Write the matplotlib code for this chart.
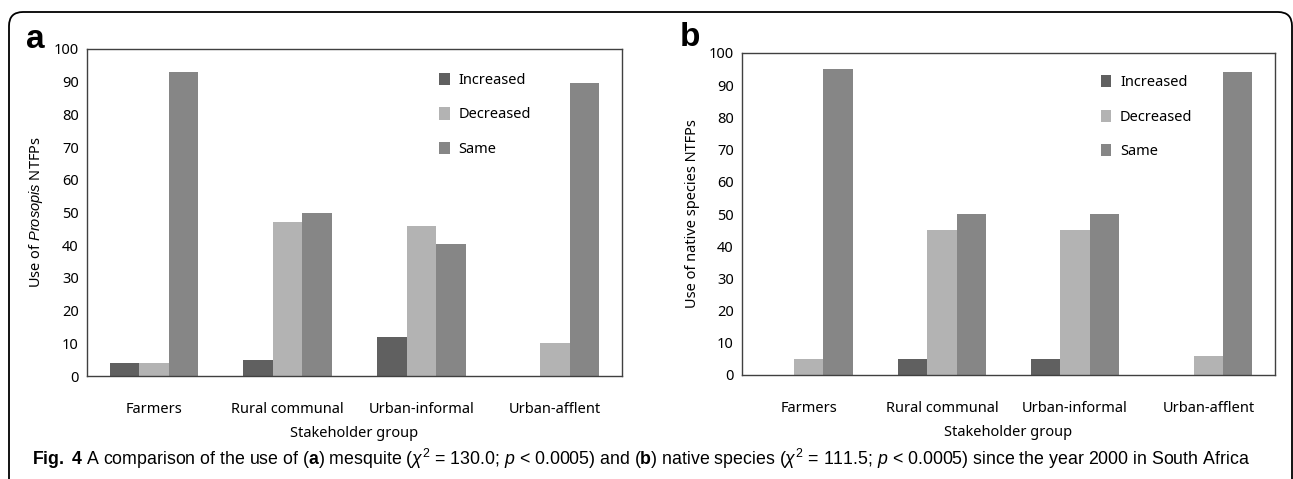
import matplotlib
matplotlib.use("Agg")
import matplotlib.pyplot as plt
import numpy as np
from matplotlib.patches import FancyBboxPatch
from matplotlib.transforms import IdentityTransform

plt.rcParams['font.family'] = ['Noto Sans', 'DejaVu Sans']
plt.rcParams['mathtext.fontset'] = 'custom'
plt.rcParams['mathtext.rm'] = 'Liberation Sans'
plt.rcParams['mathtext.it'] = 'Liberation Sans:italic'
plt.rcParams['mathtext.bf'] = 'Liberation Sans:bold'

groups = ["Farmers", "Rural communal", "Urban-informal", "Urban-afflent"]
series = ["Increased", "Decreased", "Same"]
colors = ["#606060", "#b3b3b3", "#868686"]

# panel a: mesquite (Prosopis)
prosopis_increased = [4, 5, 12, 0]
prosopis_decreased = [4, 47, 46, 10]
prosopis_same = [93, 50, 40.5, 89.5]

# panel b: native species
native_increased = [0, 5, 5, 0]
native_decreased = [5, 45, 45, 6]
native_same = [95, 50, 50, 94]

W, H = 1293, 479
fig = plt.figure(figsize=(W / 100, H / 100), dpi=100)

# rounded frame round the figure
frame = FancyBboxPatch((9, -30), 1283, H - 12 + 30,
                       boxstyle="round,pad=0,rounding_size=14",
                       transform=IdentityTransform(), fill=False,
                       edgecolor="black", linewidth=1.3)
fig.patches.append(frame)


def panel(rect, vals, ylabel, letter, letter_xy, leg_anchor):
    ax = fig.add_axes(rect)
    x = np.arange(len(groups))
    w = 0.22
    for i, (v, c, name) in enumerate(zip(vals, colors, series)):
        ax.bar(x + (i - 1) * w, v, w, color=c, label=name, edgecolor="none")
    ax.set_xlim(-0.5, len(groups) - 0.5)
    ax.set_ylim(0, 100)
    ax.set_yticks(range(0, 101, 10))
    ax.set_xticks(x)
    ax.set_xticklabels(groups)
    ax.tick_params(axis="x", length=0, pad=19, labelsize=10.5)
    ax.tick_params(axis="y", length=0, pad=6, labelsize=10.5)
    for s in ax.spines.values():
        s.set_color("#404040")
        s.set_linewidth(1.0)
    ax.set_xlabel("Stakeholder group", fontsize=10.5, labelpad=6)
    ax.set_ylabel(ylabel, fontsize=10.5, labelpad=6)
    ax.legend(loc="upper left", bbox_to_anchor=leg_anchor, frameon=False,
              fontsize=10.5, handlelength=0.7, handleheight=0.9,
              handletextpad=0.6, labelspacing=1.35, borderpad=0)
    fig.text(letter_xy[0] / W, 1 - letter_xy[1] / H, letter, fontsize=24,
             fontweight="bold", ha="left", va="center",
             family=["Liberation Sans", "DejaVu Sans"])
    return ax


panel([87 / W, 1 - 376 / H, 535 / W, 327 / H],
      [prosopis_increased, prosopis_decreased, prosopis_same],
      r"Use of $\it{Prosopis}$ NTFPs", "a", (26, 40), (0.645, 0.95))
panel([742 / W, 1 - 375 / H, 533 / W, 322 / H],
      [native_increased, native_decreased, native_same],
      "Use of native species NTFPs", "b", (680, 38), (0.66, 0.955))

caption = (r"$\mathbf{Fig.\ 4}$ A comparison of the use of ($\mathbf{a}$) mesquite "
           r"($\chi^2$ = 130.0; $p$ < 0.0005) and ($\mathbf{b}$) native species "
           r"($\chi^2$ = 111.5; $p$ < 0.0005) since the year 2000 in South Africa")
fig.text(32 / W, 1 - 459 / H, caption, fontsize=12.8, ha="left", va="center",
         family=["Liberation Sans", "DejaVu Sans"])

fig.savefig("out.png", dpi=100)
